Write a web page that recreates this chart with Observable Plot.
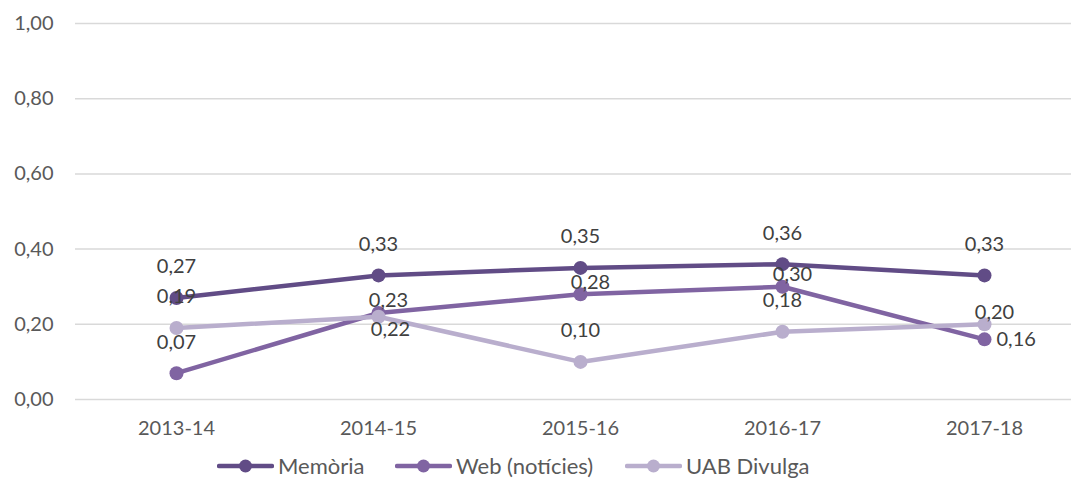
<!DOCTYPE html>
<html>
<head>
<meta charset="utf-8">
<script src="https://cdn.jsdelivr.net/npm/d3@7"></script>
<script src="https://cdn.jsdelivr.net/npm/@observablehq/plot@0.6"></script>
<style>
  html, body { margin: 0; padding: 0; background: #fff; }
  #wrap { width: 1071px; height: 479px; overflow: hidden; position: relative; font-family: Lato, sans-serif; }
  #legend { position: absolute; left: 0; top: 452px; width: 1071px; height: 27px; font-size: 22px; color: #595959; white-space: nowrap; }
  .item { position: absolute; display: flex; align-items: center; top: 0; height: 27px; line-height: 27px; }
  .item svg { margin-right: 4px; }
</style>
</head>
<body>
<div id="wrap">
  <div id="chart"></div>
  <div id="legend"></div>
</div>
<script>
const categories = ["2013-14", "2014-15", "2015-16", "2016-17", "2017-18"];
const seriesNames = ["Memòria", "Web (notícies)", "UAB Divulga"];
const memoria = [0.27, 0.33, 0.35, 0.36, 0.33];
const web = [0.07, 0.23, 0.28, 0.30, 0.16];
const divulga = [0.19, 0.22, 0.10, 0.18, 0.20];
const yTicks = [0, 0.2, 0.4, 0.6, 0.8, 1.0];
const colors = ["#614c86", "#8064a2", "#b9aecd"];
// label placement per point (Excel data label position)
const memoriaPos = ["above", "above", "above", "above", "above"];
const webPos = ["above", "near", "near", "near", "right"];
const divulgaPos = ["above", "below", "above", "above", "near"];

const seriesValues = [memoria, web, divulga];
const seriesPos = [memoriaPos, webPos, divulgaPos];
const rows = [];
seriesNames.forEach((s, i) => {
  categories.forEach((c, j) => {
    rows.push({series: s, cat: c, value: seriesValues[i][j], pos: seriesPos[i][j]});
  });
});
const fmt = d => d.toFixed(2).replace(".", ",");

const placements = {
  above: {dx: 0, dy: -31, textAnchor: "middle"},
  near: {dx: 10, dy: -12, textAnchor: "middle"},
  below: {dx: 12, dy: 13, textAnchor: "middle"},
  right: {dx: 12, dy: 0, textAnchor: "start"}
};

const marks = [
  Plot.ruleY(yTicks, {stroke: "#d9d9d9", strokeWidth: 1.5}),
  Plot.axisY({ticks: yTicks, tickSize: 0, tickPadding: 22, tickFormat: fmt, fontSize: 20, fill: "#595959", label: null}),
  Plot.axisX({tickSize: 0, tickPadding: 21, fontSize: 20, fill: "#595959", label: null})
];
seriesNames.forEach((s, i) => {
  const d = rows.filter(r => r.series === s);
  marks.push(Plot.line(d, {x: "cat", y: "value", stroke: colors[i], strokeWidth: 4.5, strokeLinecap: "round", strokeLinejoin: "round"}));
  marks.push(Plot.dot(d, {x: "cat", y: "value", r: 7, fill: colors[i], stroke: "none"}));
});
Object.entries(placements).forEach(([k, p]) => {
  marks.push(Plot.text(rows.filter(r => r.pos === k), {
    x: "cat", y: "value", text: r => fmt(r.value), dx: p.dx, dy: p.dy, textAnchor: p.textAnchor,
    fill: "#404040", fontSize: 20
  }));
});

const chart = Plot.plot({
  width: 1071,
  height: 452,
  marginLeft: 75,
  marginRight: 0,
  marginTop: 23,
  marginBottom: 53,
  style: {fontFamily: "Lato, sans-serif", fontSize: "20px", color: "#595959", background: "#fff", overflow: "visible"},
  x: {type: "point", domain: categories, range: [75, 1085], padding: 0.5},
  y: {domain: [0, 1]},
  marks
});
document.getElementById("chart").appendChild(chart);

// legend
const legend = document.getElementById("legend");
const lefts = [217, 395, 625];
seriesNames.forEach((s, i) => {
  const item = document.createElement("div");
  item.className = "item";
  item.style.left = lefts[i] + "px";
  item.innerHTML = `<svg width="57" height="16"><line x1="2" y1="8" x2="55" y2="8" stroke="${colors[i]}" stroke-width="4.5" stroke-linecap="round"/><circle cx="28.5" cy="8" r="6.5" fill="${colors[i]}"/></svg><span>${s}</span>`;
  legend.appendChild(item);
});
</script>
</body>
</html>
